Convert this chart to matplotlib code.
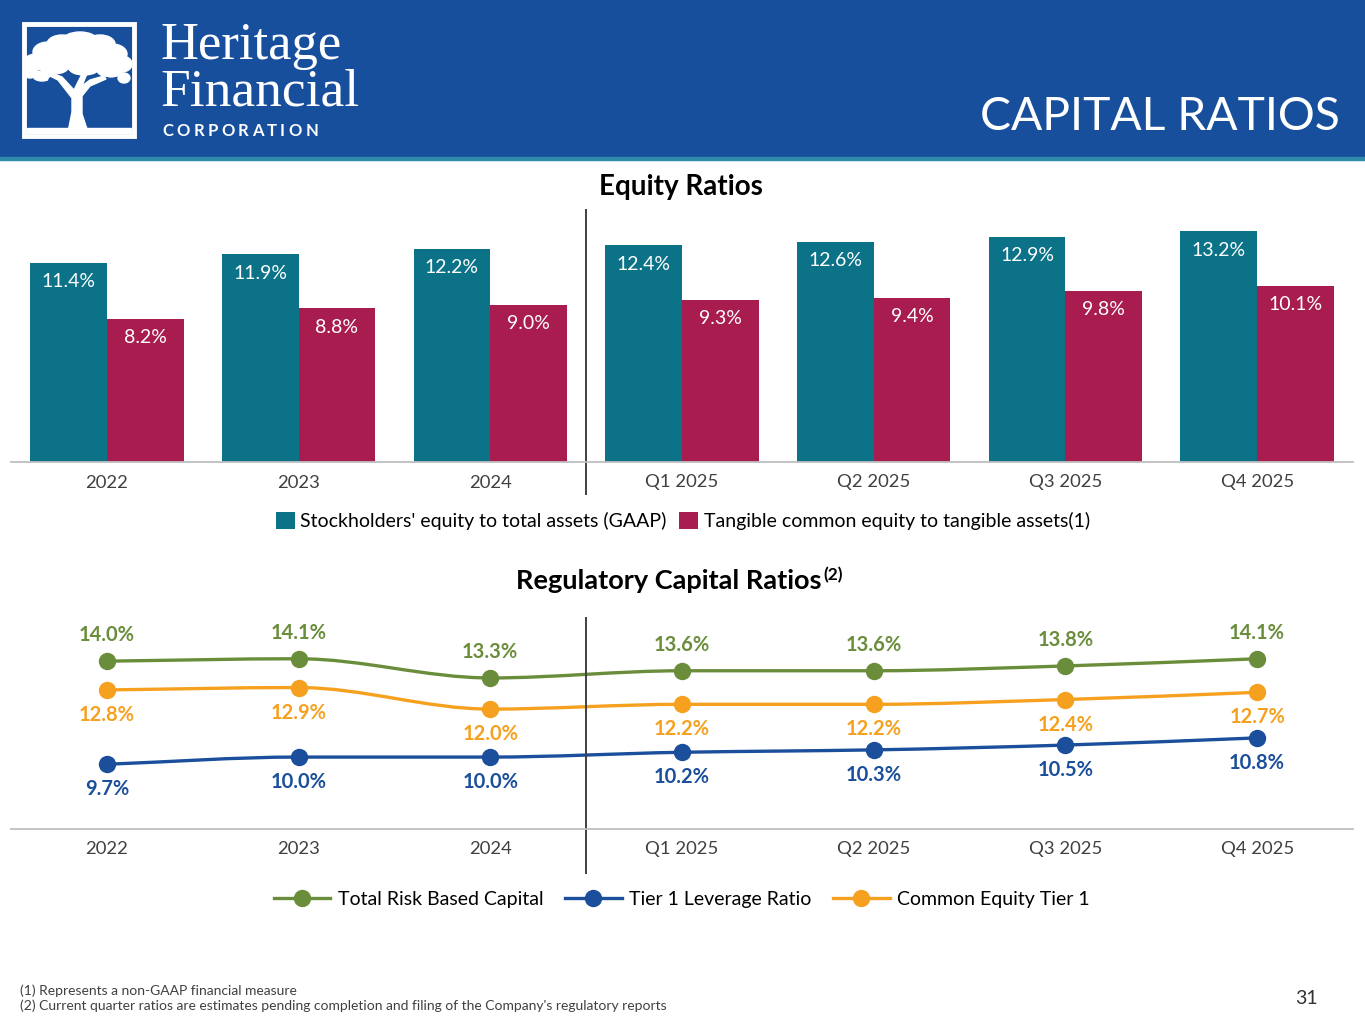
import numpy as np
import matplotlib
matplotlib.use("Agg")
import matplotlib.pyplot as plt
from matplotlib.patches import Rectangle, Ellipse, Polygon, PathPatch
from matplotlib.path import Path
from matplotlib.lines import Line2D

plt.rcParams['font.family'] = ['Lato', 'DejaVu Sans']

# ---------------- data ----------------
categories = ["2022", "2023", "2024", "Q1 2025", "Q2 2025", "Q3 2025", "Q4 2025"]
equity_gaap = [11.4, 11.9, 12.2, 12.4, 12.6, 12.9, 13.2]
tangible_equity = [8.2, 8.8, 9.0, 9.3, 9.4, 9.8, 10.1]
bar_series_names = ["Stockholders' equity to total assets (GAAP)",
                    "Tangible common equity to tangible assets(1)"]

total_risk_based = [14.0, 14.1, 13.3, 13.6, 13.6, 13.8, 14.1]
tier1_leverage = [9.7, 10.0, 10.0, 10.2, 10.3, 10.5, 10.8]
common_equity_t1 = [12.8, 12.9, 12.0, 12.2, 12.2, 12.4, 12.7]
line_series_names = ["Total Risk Based Capital", "Tier 1 Leverage Ratio", "Common Equity Tier 1"]

footnotes = ["(1) Represents a non-GAAP financial measure",
             "(2) Current quarter ratios are estimates pending completion and filing of the Company's regulatory reports"]

# ---------------- style ----------------
HEADER = '#174F9C'
TEAL = '#0B7288'
CRIMSON = '#A81C50'
GREEN = '#6A8D3B'
ORANGE = '#F5A11F'
BLUE = '#1B4E9B'
TXT = '#404040'

W, H = 1365, 1024
fig = plt.figure(figsize=(W / 100, H / 100), dpi=100)
fig.patch.set_facecolor('white')
r = fig.canvas.get_renderer()


def fx(px):
    return px / W


def fy(py):
    return 1 - py / H


# ---------------- header ----------------
hdr = fig.add_axes([0, fy(158), 1, 158 / H])
hdr.set_xlim(0, W)
hdr.set_ylim(158, 0)
hdr.axis('off')
hdr.add_patch(Rectangle((0, 0), W, 158, color=HEADER, zorder=0))
fig.add_artist(Rectangle((0, fy(160)), 1, 3 / H, transform=fig.transFigure,
                         color='#2E8CA8', zorder=1))
# logo frame
hdr.add_patch(Rectangle((24, 24), 110, 112, fill=False, ec='white', lw=3.5, zorder=2))
# tree canopy (lumpy)
for (cx, cy, w, h) in [(62, 44, 30, 18), (80, 40, 34, 16), (100, 44, 30, 18),
                       (112, 54, 30, 20), (122, 64, 20, 16), (48, 52, 30, 20),
                       (36, 62, 24, 16), (30, 72, 14, 12), (70, 56, 50, 26),
                       (96, 58, 40, 24), (54, 66, 30, 16), (110, 70, 26, 14),
                       (84, 68, 30, 14), (42, 76, 18, 10), (124, 78, 12, 10)]:
    hdr.add_patch(Ellipse((cx, cy), w, h, color='white', zorder=3))
# gaps under canopy
for (cx, cy, w, h) in [(62, 80, 26, 10), (100, 82, 26, 10)]:
    hdr.add_patch(Ellipse((cx, cy), w, h, color=HEADER, zorder=3.5))
# trunk and branches
hdr.add_patch(Polygon([(68, 132), (72, 112), (72, 98), (58, 80), (50, 76), (52, 73),
                       (62, 77), (74, 90), (78, 82), (84, 70), (88, 71), (82, 86),
                       (90, 80), (104, 76), (106, 79), (90, 86), (82, 96),
                       (82, 114), (88, 132)],
                      closed=True, color='white', zorder=4))
hdr.add_patch(Rectangle((27, 128), 104, 5, color='white', zorder=4))

hdr.text(160, 59, "Heritage", fontsize=38, color='white', family='Liberation Serif',
         va='baseline', ha='left')
hdr.text(160, 106, "Financial", fontsize=38.5, color='white', family='Liberation Serif',
         va='baseline', ha='left')
# letter spaced CORPORATION
xpos = 162
for ch in "CORPORATION":
    t = hdr.text(xpos, 136, ch, fontsize=12, color='white', weight='bold',
                 va='baseline', ha='left')
    bb = t.get_window_extent(renderer=r)
    xpos += bb.width + 3.4
hdr.text(1340, 117, "CAPITAL RATIOS", fontsize=33.3, color='white', ha='right',
         va='center')

# ---------------- equity ratios (bars) ----------------
x = np.arange(len(categories))
ax1 = fig.add_axes([fx(11), fy(462), fx(1353 - 11), 262 / H])
ax1.set_xlim(-0.5, len(categories) - 0.5)
ax1.set_ylim(0, 15)
bw = 0.4
b1 = ax1.bar(x - bw / 2, equity_gaap, bw, color=TEAL, label=bar_series_names[0])
b2 = ax1.bar(x + bw / 2, tangible_equity, bw, color=CRIMSON, label=bar_series_names[1])
for bars, vals in [(b1, equity_gaap), (b2, tangible_equity)]:
    for rect, v in zip(bars, vals):
        ax1.annotate(f"{v:.1f}%", (rect.get_x() + rect.get_width() / 2, v),
                     xytext=(0, -13.7), textcoords='offset points', ha='center',
                     va='center', color='white', fontsize=14)
for s in ['top', 'right', 'left']:
    ax1.spines[s].set_visible(False)
ax1.spines['bottom'].set_color('#BFBFBF')
ax1.spines['bottom'].set_linewidth(1.3)
ax1.set_yticks([])
ax1.set_xticks(x)
ax1.set_xticklabels(categories, fontsize=13.3, color=TXT)
ax1.tick_params(axis='x', length=0, pad=9.0)
ax1.plot([2.5, 2.5], [-1.83, 14.43], color='#404040', lw=1.4, clip_on=False)
ax1.patch.set_alpha(0)

fig.text(fx(681), fy(187), "Equity Ratios", fontsize=20, weight='bold', color='black',
         ha='center', va='center')
fig.legend(handles=[b1, b2], loc='center', bbox_to_anchor=(fx(683), fy(521)), ncol=2,
           frameon=False, fontsize=14, handlelength=0.95, handleheight=0.95,
           handletextpad=0.3, columnspacing=0.65, labelcolor='black')

# ---------------- regulatory capital ratios (lines) ----------------
ax2 = fig.add_axes([fx(11), fy(829), fx(1353 - 11), 211 / H])
ax2.set_xlim(-0.5, len(categories) - 0.5)
ax2.set_ylim(7, 15.8)


def smooth_path(xs, ys):
    xs = np.asarray(xs, float)
    ys = np.asarray(ys, float)
    h = np.diff(xs)
    d = np.diff(ys) / h
    m = np.zeros_like(ys)
    m[0], m[-1] = d[0], d[-1]
    for k in range(1, len(ys) - 1):
        if d[k - 1] * d[k] <= 0:
            m[k] = 0
        else:
            m[k] = 2 / (1 / d[k - 1] + 1 / d[k])
    verts = [(xs[0], ys[0])]
    codes = [Path.MOVETO]
    for k in range(len(xs) - 1):
        hk = h[k] / 3
        verts += [(xs[k] + hk, ys[k] + m[k] * hk),
                  (xs[k + 1] - hk, ys[k + 1] - m[k + 1] * hk),
                  (xs[k + 1], ys[k + 1])]
        codes += [Path.CURVE4] * 3
    return Path(verts, codes)


series = [(total_risk_based, GREEN, 18.7), (tier1_leverage, BLUE, -18.0),
          (common_equity_t1, ORANGE, -18.0)]
handles = []
for (vals, col, off), name in zip(series, line_series_names):
    ax2.add_patch(PathPatch(smooth_path(x, vals), fill=False, ec=col, lw=2.4,
                            zorder=2, capstyle='round'))
    ax2.plot(x, vals, 'o', color=col, ms=11.5, zorder=3)
    for xi, v in zip(x, vals):
        ax2.annotate(f"{v:.1f}%", (xi, v), xytext=(0, off), textcoords='offset points',
                     ha='center', va='center', color=col, fontsize=14.5, weight='bold')
    handles.append(Line2D([], [], color=col, lw=2.4, marker='o', ms=11.5, label=name))

for s in ['top', 'right', 'left']:
    ax2.spines[s].set_visible(False)
ax2.spines['bottom'].set_color('#BFBFBF')
ax2.spines['bottom'].set_linewidth(1.3)
ax2.set_yticks([])
ax2.set_xticks(x)
ax2.set_xticklabels(categories, fontsize=13.3, color=TXT)
ax2.tick_params(axis='x', length=0, pad=8.5)
ax2.plot([2.5, 2.5], [5.16, 15.8], color='#404040', lw=1.4, clip_on=False)
ax2.patch.set_alpha(0)

ttl = fig.text(fx(822), fy(581), "Regulatory Capital Ratios", fontsize=19.5, weight='bold',
               color='black', ha='right', va='center')
fig.text(fx(823), fy(575), "(2)", fontsize=12.5, weight='bold', color='black',
         ha='left', va='center')
fig.legend(handles=handles, loc='center', bbox_to_anchor=(fx(682), fy(899)), ncol=3,
           frameon=False, fontsize=14, handlelength=2.9, handletextpad=0.4,
           columnspacing=1.1, labelcolor='black')

# ---------------- footer ----------------
fig.text(fx(20), fy(991), footnotes[0], fontsize=10, color=TXT, ha='left', va='center')
fig.text(fx(20), fy(1006), footnotes[1], fontsize=10, color=TXT, ha='left', va='center')
fig.text(fx(1318), fy(998), "31", fontsize=14, color='#333333', ha='right', va='center')

fig.savefig("out.png", dpi=100, facecolor='white')
